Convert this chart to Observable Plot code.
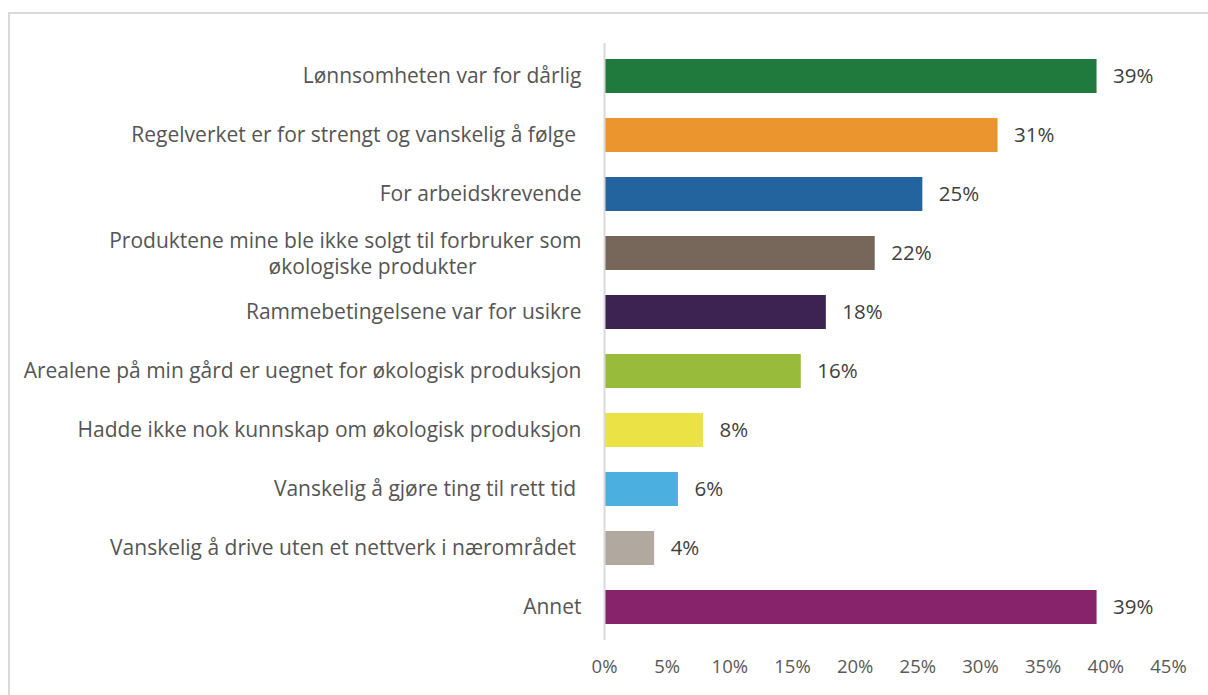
<!DOCTYPE html>
<html>
<head>
<meta charset="utf-8">
<script src="https://cdn.jsdelivr.net/npm/d3@7"></script>
<script src="https://cdn.jsdelivr.net/npm/@observablehq/plot@0.6"></script>
<style>
  html, body { margin: 0; padding: 0; background: #fff; overflow: hidden; }
  #frame { position: absolute; left: 8px; top: 12px; width: 1300px; height: 800px; border: 2px solid #d9d9d9; box-sizing: border-box; }
  #chart { position: absolute; left: 0; top: 0; }
</style>
</head>
<body>
<div id="frame"></div>
<div id="chart"></div>
<script>
const categories = [
  "Lønnsomheten var for dårlig",
  "Regelverket er for strengt og vanskelig å følge\u00a0",
  "For arbeidskrevende",
  "Produktene mine ble ikke solgt til forbruker som økologiske produkter",
  "Rammebetingelsene var for usikre",
  "Arealene på min gård er uegnet for økologisk produksjon",
  "Hadde ikke nok kunnskap om økologisk produksjon",
  "Vanskelig å gjøre ting til rett tid\u00a0",
  "Vanskelig å drive uten et nettverk i nærområdet\u00a0",
  "Annet"
];
const values = [39.3, 31.4, 25.4, 21.6, 17.7, 15.7, 7.9, 5.9, 4.0, 39.3];
const colors = ["#217a3d", "#ea952d", "#23649e", "#76675a", "#3c2352", "#98bb3b", "#ebe346", "#4bafe0", "#b1a9a0", "#86236b"];
const xTicks = [0, 5, 10, 15, 20, 25, 30, 35, 40, 45];
const wrappedLine1 = "Produktene mine ble ikke solgt til forbruker som";
const wrappedLine2 = "økologiske produkter";

const data = categories.map((c, i) => ({category: c, value: values[i], color: colors[i]}));
const wrapped = categories[3];

const font = "'Open Sans', sans-serif";
const labelSize = 21;
const labelColor = "#555555";
const chart = Plot.plot({
  width: 1208,
  height: 695,
  marginLeft: 604,
  marginRight: 40,
  marginTop: 43,
  marginBottom: 55,
  style: {fontFamily: font, fontSize: "17px", color: "#404040", background: "transparent"},
  x: {domain: [0, 45], ticks: xTicks, label: null},
  y: {domain: categories, paddingInner: 0.43, paddingOuter: 0.215, label: null},
  marks: [
    Plot.barX(data, {x: "value", y: "category", fill: "color"}),
    Plot.ruleX([0], {stroke: "#d9d9d9", strokeWidth: 2}),
    Plot.text(data, {x: "value", y: "category", text: d => Math.round(d.value) + "%", textAnchor: "start", dx: 16, fill: "#404040", fontSize: 20.5}),
    Plot.axisX({ticks: xTicks, tickSize: 0, tickPadding: 19, tickFormat: d => d + "%", fill: "#595959", fontSize: 18.5}),
    Plot.axisY({tickSize: 0, tickPadding: 23, tickFormat: d => d === wrapped ? "" : d, fill: labelColor, fontSize: labelSize}),
    Plot.text([wrapped], {y: d => d, frameAnchor: "left", text: () => wrappedLine1, textAnchor: "end", dx: -23, dy: -12, fill: labelColor, fontSize: labelSize}),
    Plot.text([wrapped], {y: d => d, frameAnchor: "left", text: () => wrappedLine2, textAnchor: "end", dx: -128, dy: 14, fill: labelColor, fontSize: labelSize})
  ]
});
document.getElementById("chart").appendChild(chart);
</script>
</body>
</html>
